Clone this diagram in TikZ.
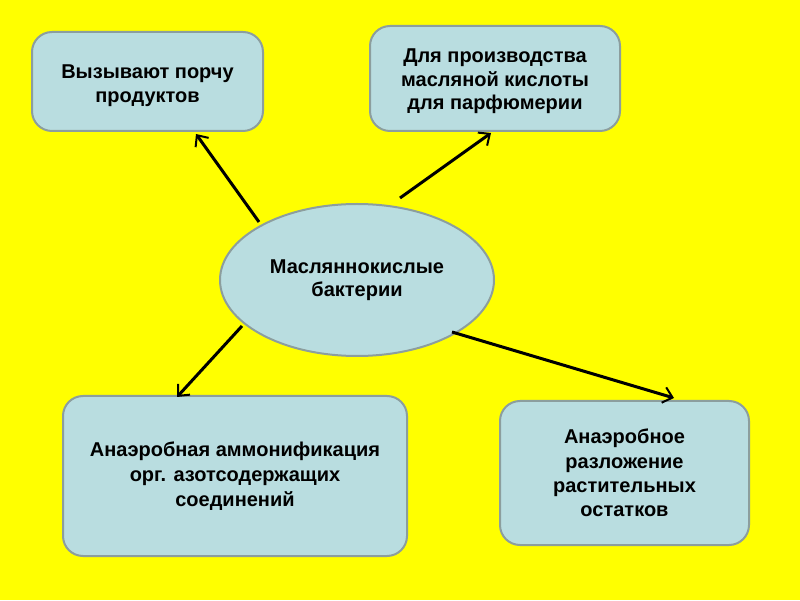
\documentclass[tikz,border=0pt]{standalone}
\usepackage{fontspec}
\setmainfont{Liberation Sans}
\usetikzlibrary{arrows.meta,shapes.geometric}
\definecolor{bg}{RGB}{255,255,0}
\definecolor{boxfill}{RGB}{185,221,224}
\definecolor{boxline}{RGB}{140,158,158}
\tikzset{
  txt/.style={align=center, font=\fontsize{20}{23.5}\selectfont\bfseries},
  box/.style={draw=boxline, line width=2pt, fill=boxfill, rounded corners=20pt,
    txt, inner sep=0pt},
  conn/.style={line width=3pt, -{Straight Barb[length=9pt,width=16pt,line width=2pt]}}
}
\begin{document}
\begin{tikzpicture}[x=1pt,y=1pt]
\fill[bg] (0,0) rectangle (800,600);
\useasboundingbox (0,0) rectangle (800,600);
% boxes (y = 600 - pixel y)
\node[box, minimum width=231pt, minimum height=99pt] (b1) at (147.5,518.5) {};
\node[txt] (t1) at (147.5,514.5) {Вызывают порчу\\продуктов};
\node[box, minimum width=250pt, minimum height=105pt] (b2) at (495,521.5) {};
\node[txt] (t2) at (495,518.5) {Для производства\\масляной кислоты\\для парфюмерии};
\node[box, minimum width=344pt, minimum height=160pt] (b3) at (235,124) {};
\node[txt, font=\fontsize{20}{25}\selectfont\bfseries] (t3) at (235,124) {Анаэробная аммонификация\\орг. азотсодержащих\\соединений};
\node[box, minimum width=249pt, minimum height=144pt, font=\fontsize{20}{24.3}\selectfont\bfseries] (b4) at (624.5,127) {Анаэробное\\разложение\\растительных\\остатков};
\node[draw=boxline, line width=2pt, fill=boxfill, ellipse, minimum width=274pt, minimum height=152pt,
  txt] (e) at (357,320) {Масляннокислые\\бактерии};
% connector ends
\coordinate (s1) at (259,378);
\coordinate (e1) at (196,466);
\coordinate (s2) at (400,402);
\coordinate (e2) at (491,467);
\coordinate (s3) at (242,274);
\coordinate (e3) at (177,203);
\coordinate (s4) at (452,268);
\coordinate (e4) at (674,202);
\draw[conn] (s1) -- (e1);
\draw[conn] (s2) -- (e2);
\draw[conn] (s3) -- (e3);
\draw[conn] (s4) -- (e4);
\end{tikzpicture}
\end{document}
